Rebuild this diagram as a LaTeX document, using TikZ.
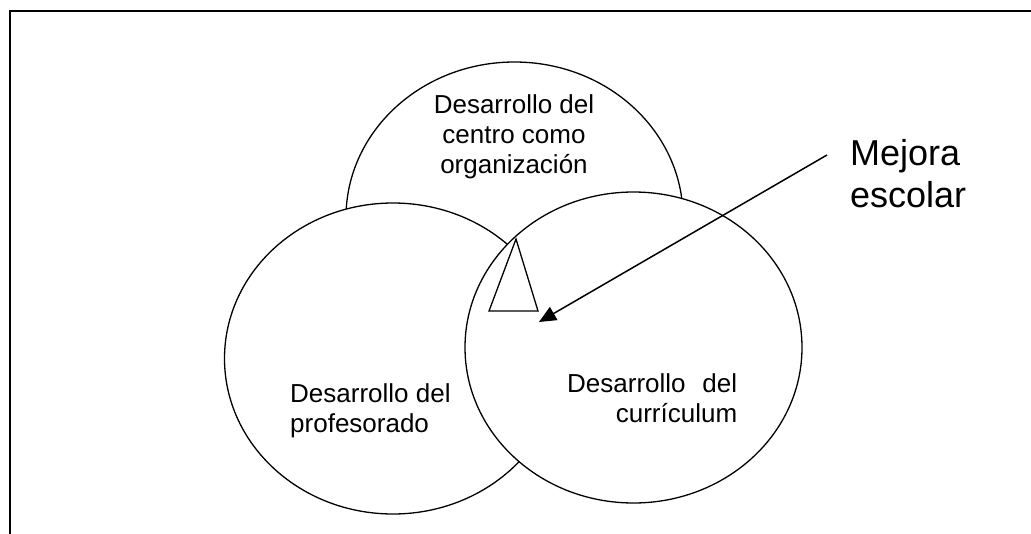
\documentclass[tikz,border=0pt]{standalone}
\usepackage{fontspec}
\setmainfont{Liberation Sans}
\usetikzlibrary{shapes.geometric,arrows.meta}
\begin{document}
\begin{tikzpicture}[x=1pt,y=-1pt,
  circ/.style={ellipse,draw,line width=1.3pt,fill=white,minimum width=337pt,minimum height=311pt,inner sep=0pt},
  small/.style={font=\fontsize{26}{30}\selectfont,inner sep=0pt},
  big/.style={font=\fontsize{36}{42}\selectfont,inner sep=0pt}]
\useasboundingbox (0,0) rectangle (1031,533);
\fill[white] (0,0) rectangle (1031,533);
\draw[line width=2pt] (10,540) -- (10,11) -- (1040,11);
\node[circ] (top) at (514.5,217.5) {};
\node[circ] (left) at (393,358.5) {};
\node[circ] (right) at (633.5,347.5) {};
\coordinate (ta) at (516,239);
\coordinate (tb) at (489,311);
\coordinate (tc) at (538,311);
\draw[line width=1.3pt,fill=white,line join=miter] (ta) -- (tb) -- (tc) -- cycle;
\node[small,align=center,anchor=base] (ttop) at (514,173) {Desarrollo del\\centro como\\organización};
\node[small,align=left,anchor=base west] (tleft) at (290,432) {Desarrollo del\\profesorado};
\node[small,text width=170pt,align=right,anchor=base west] (tright) at (567,392) {Desarrollo\hfill del\\currículum};
\node[big,align=left,anchor=base west] (mejora) at (850,207) {Mejora\\escolar};
\coordinate (as) at (827,155);
\coordinate (ae) at (539,322);
\draw[line width=1.5pt,-{Triangle[length=17pt,width=15pt]}] (as) -- (ae);
\end{tikzpicture}
\end{document}
